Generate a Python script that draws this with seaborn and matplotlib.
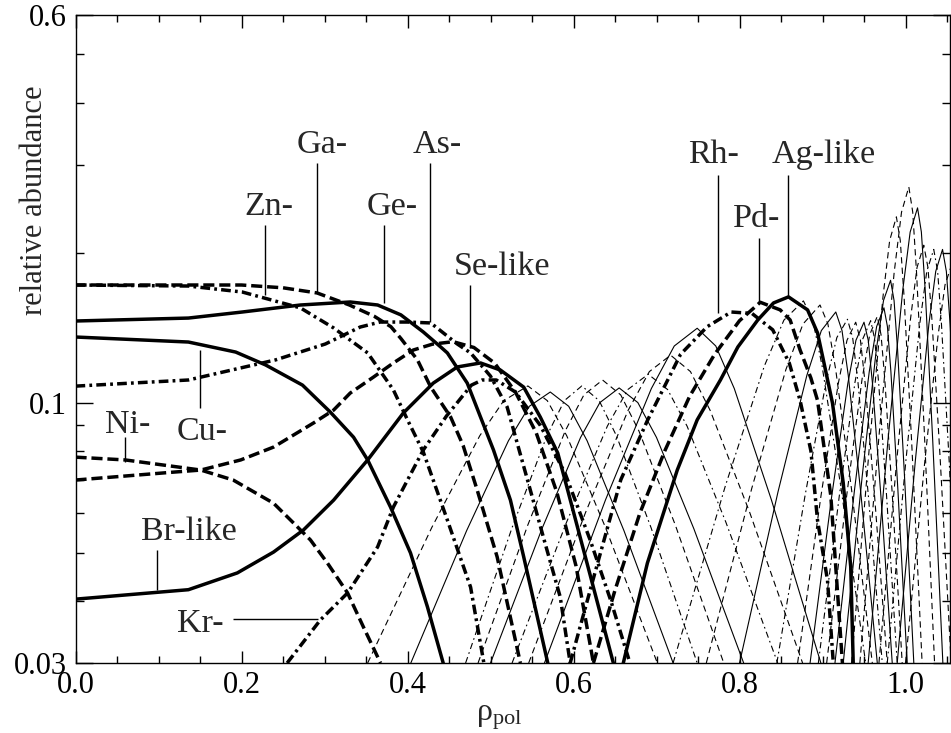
import matplotlib
matplotlib.use("Agg")
import matplotlib.pyplot as plt
from matplotlib.ticker import MultipleLocator, LogLocator, NullFormatter
import seaborn as sns

# ---------------- data (rho_pol, relative abundance) ----------------
# thick curves
NI_RHO = [0, 0.06, 0.151, 0.19, 0.2386, 0.2627, 0.283, 0.3036, 0.3277, 0.347, 0.3675]
NI_AB = [0.0777, 0.0767, 0.0732, 0.0699, 0.0628, 0.0573, 0.053, 0.0476, 0.0415, 0.0354, 0.03]
CU_RHO = [0, 0.136, 0.193, 0.229, 0.2735, 0.307, 0.335, 0.352, 0.3795, 0.4036, 0.424, 0.443]
CU_AB = [0.1354, 0.1323, 0.1263, 0.119, 0.1084, 0.0957, 0.0852, 0.0767, 0.0617, 0.0499, 0.0389, 0.03]
ZN_RHO = [0, 0.136, 0.201, 0.271, 0.311, 0.352, 0.383, 0.400, 0.419, 0.448, 0.476, 0.492]
ZN_AB = [0.1722, 0.1714, 0.1667, 0.1549, 0.1412, 0.1258, 0.106, 0.0923, 0.0796, 0.0581, 0.0426, 0.03]
GA_RHO = [0, 0.2, 0.25, 0.291, 0.33, 0.36, 0.38, 0.392, 0.412, 0.428, 0.452, 0.467, 0.484, 0.508, 0.536]
GA_AB = [0.1722, 0.1722, 0.170, 0.166, 0.157, 0.149, 0.142, 0.1345, 0.1218, 0.1074, 0.0935, 0.082, 0.0667, 0.049, 0.03]
GE_RHO = [0, 0.136, 0.201, 0.271, 0.331, 0.364, 0.392, 0.419, 0.44, 0.448, 0.472, 0.488, 0.5036, 0.524, 0.540, 0.569]
GE_AB = [0.1458, 0.1478, 0.152, 0.157, 0.1592, 0.157, 0.150, 0.1386, 0.1293, 0.1258, 0.1094, 0.0935, 0.0803, 0.0637, 0.049, 0.03]
AS_RHO = [0, 0.136, 0.241, 0.301, 0.343, 0.367, 0.40, 0.428, 0.46, 0.476, 0.50, 0.52, 0.548, 0.566, 0.584, 0.596]
AS_AB = [0.1079, 0.111, 0.1218, 0.1311, 0.1418, 0.1451, 0.1451, 0.1445, 0.1311, 0.1258, 0.113, 0.098, 0.0667, 0.052, 0.0407, 0.03]
SE_RHO = [0, 0.118, 0.151, 0.199, 0.2386, 0.2868, 0.311, 0.331, 0.359, 0.383, 0.407, 0.43, 0.455, 0.48, 0.505, 0.53, 0.555, 0.58, 0.603, 0.624]
SE_AB = [0.0699, 0.0725, 0.0732, 0.0767, 0.0814, 0.091, 0.0966, 0.1045, 0.1125, 0.1201, 0.1275, 0.131, 0.1325, 0.129, 0.12, 0.105, 0.087, 0.066, 0.047, 0.03]
BR_RHO = [0, 0.136, 0.195, 0.2386, 0.2747, 0.311, 0.352, 0.395, 0.431, 0.460, 0.488, 0.512, 0.540, 0.560, 0.581, 0.593, 0.620, 0.648]
BR_AB = [0.0403, 0.0421, 0.0455, 0.0501, 0.0555, 0.0637, 0.0767, 0.0953, 0.1094, 0.1179, 0.1201, 0.1162, 0.1074, 0.0935, 0.0792, 0.0667, 0.0451, 0.03]
KR_RHO = [0.255, 0.295, 0.328, 0.364, 0.383, 0.419, 0.447, 0.477, 0.49, 0.507, 0.53, 0.56, 0.59, 0.62, 0.645, 0.668]
KR_AB = [0.03, 0.0366, 0.0415, 0.0513, 0.0617, 0.0803, 0.094, 0.1084, 0.111, 0.111, 0.105, 0.09, 0.072, 0.053, 0.04, 0.03]
RH_RHO = [0.596, 0.625, 0.657, 0.689, 0.729, 0.761, 0.79, 0.815, 0.84, 0.86, 0.873, 0.886, 0.894, 0.906, 0.913]
RH_AB = [0.03, 0.045, 0.07, 0.092, 0.125, 0.142, 0.152, 0.151, 0.14, 0.12, 0.101, 0.08, 0.058, 0.044, 0.03]
PD_RHO = [0.624, 0.65, 0.68, 0.71, 0.74, 0.77, 0.80, 0.825, 0.849, 0.861, 0.873, 0.886, 0.894, 0.91, 0.924]
PD_AB = [0.03, 0.042, 0.06, 0.08, 0.103, 0.125, 0.146, 0.159, 0.1535, 0.1465, 0.1275, 0.112, 0.101, 0.065, 0.03]
AG_RHO = [0.66, 0.689, 0.725, 0.749, 0.777, 0.798, 0.822, 0.841, 0.859, 0.882, 0.894, 0.901, 0.912, 0.925, 0.934, 0.937]
AG_AB = [0.03, 0.0476, 0.0732, 0.0923, 0.111, 0.1293, 0.1465, 0.1585, 0.163, 0.1535, 0.138, 0.1218, 0.0998, 0.0689, 0.0468, 0.03]

# thin curves
RB_RHO = [0.352, 0.4292, 0.4871, 0.516, 0.545, 0.5684, 0.5918, 0.6386, 0.701]
RB_AB = [0.03, 0.0561, 0.0858, 0.1009, 0.108, 0.1009, 0.0858, 0.0561, 0.03]
SR_RHO = [0.404, 0.4712, 0.5216, 0.5468, 0.572, 0.5942, 0.6164, 0.6608, 0.720]
SR_AB = [0.03, 0.0553, 0.0838, 0.0983, 0.105, 0.0983, 0.0838, 0.0553, 0.03]
Y_RHO = [0.470, 0.526, 0.568, 0.589, 0.610, 0.6309, 0.6517, 0.6934, 0.749]
Y_AB = [0.03, 0.0561, 0.0858, 0.1009, 0.108, 0.1009, 0.0858, 0.0561, 0.03]
ZR_RHO = [0.485, 0.545, 0.590, 0.6125, 0.635, 0.6569, 0.6788, 0.7226, 0.781]
ZR_AB = [0.03, 0.0568, 0.0877, 0.1036, 0.111, 0.1036, 0.0877, 0.0568, 0.03]
NB_RHO = [0.500, 0.562, 0.6085, 0.6318, 0.655, 0.6775, 0.700, 0.745, 0.805]
NB_AB = [0.03, 0.0558, 0.0851, 0.1000, 0.107, 0.1000, 0.0851, 0.0558, 0.03]
MO_RHO = [0.526, 0.5916, 0.6408, 0.6654, 0.690, 0.7134, 0.7368, 0.7836, 0.846]
MO_AB = [0.03, 0.0575, 0.0897, 0.1062, 0.114, 0.1062, 0.0897, 0.0575, 0.03]
TC_RHO = [0.546, 0.6144, 0.6657, 0.6914, 0.717, 0.7409, 0.7647, 0.8124, 0.876]
TC_AB = [0.03, 0.0601, 0.0964, 0.1154, 0.1245, 0.1154, 0.0964, 0.0601, 0.03]
RU_RHO = [0.565, 0.6386, 0.6938, 0.7214, 0.749, 0.7714, 0.7937, 0.8384, 0.898]
RU_AB = [0.03, 0.0638, 0.1067, 0.1299, 0.141, 0.1299, 0.1067, 0.0638, 0.03]
CD_RHO = [0.72, 0.7828, 0.8299, 0.8535, 0.877, 0.8883, 0.8995, 0.922, 0.952]
CD_AB = [0.03, 0.0679, 0.1184, 0.1464, 0.160, 0.1464, 0.1184, 0.0679, 0.03]
IN_RHO = [0.76, 0.8148, 0.8559, 0.8765, 0.897, 0.9065, 0.9159, 0.9348, 0.960]
IN_AB = [0.03, 0.0673, 0.1165, 0.1438, 0.157, 0.1438, 0.1165, 0.0673, 0.03]
SN_RHO = [0.80, 0.8464, 0.8812, 0.8986, 0.916, 0.9235, 0.931, 0.946, 0.966]
SN_AB = [0.03, 0.0662, 0.1135, 0.1395, 0.152, 0.1395, 0.1135, 0.0662, 0.03]
SB_RHO = [0.845, 0.879, 0.9045, 0.9173, 0.930, 0.9363, 0.9426, 0.9552, 0.972]
SB_AB = [0.03, 0.0651, 0.1104, 0.1351, 0.147, 0.1351, 0.1104, 0.0651, 0.03]
TE_RHO = [0.87, 0.898, 0.919, 0.9295, 0.940, 0.9457, 0.9514, 0.9628, 0.978]
TE_AB = [0.03, 0.0647, 0.1092, 0.1334, 0.145, 0.1334, 0.1092, 0.0647, 0.03]
I_RHO = [0.885, 0.911, 0.9305, 0.9403, 0.950, 0.9551, 0.9602, 0.9704, 0.984]
I_AB = [0.03, 0.0647, 0.1092, 0.1334, 0.145, 0.1334, 0.1092, 0.0647, 0.03]
XE_RHO = [0.895, 0.9202, 0.9391, 0.9486, 0.958, 0.9628, 0.9676, 0.9772, 0.990]
XE_AB = [0.03, 0.0649, 0.1098, 0.1343, 0.146, 0.1343, 0.1098, 0.0649, 0.03]
CS_RHO = [0.905, 0.9294, 0.9477, 0.9569, 0.966, 0.9705, 0.975, 0.984, 0.996]
CS_AB = [0.03, 0.0656, 0.1116, 0.1369, 0.149, 0.1369, 0.1116, 0.0656, 0.03]
BA_RHO = [0.915, 0.9386, 0.9563, 0.9652, 0.974, 0.9782, 0.9824, 0.9908, 1.002]
BA_AB = [0.03, 0.0669, 0.1153, 0.1421, 0.155, 0.1421, 0.1153, 0.0669, 0.03]
LA_RHO = [0.925, 0.9478, 0.9649, 0.9735, 0.982, 0.9862, 0.9904, 0.9988, 1.010]
LA_AB = [0.03, 0.0711, 0.1280, 0.1603, 0.176, 0.1603, 0.1280, 0.0711, 0.03]
CE_RHO = [0.935, 0.9566, 0.9728, 0.9809, 0.989, 0.9937, 0.9983, 1.0076, 1.020]
CE_AB = [0.03, 0.0821, 0.1628, 0.2115, 0.236, 0.2115, 0.1628, 0.0821, 0.03]
PR_RHO = [0.945, 0.9686, 0.9863, 0.9952, 1.004, 1.0087, 1.0133, 1.0226, 1.035]
PR_AB = [0.03, 0.0878, 0.1823, 0.2412, 0.271, 0.2412, 0.1823, 0.0878, 0.03]
ND_RHO = [0.955, 0.9788, 0.9967, 1.0056, 1.0145, 1.0191, 1.0237, 1.0328, 1.045]
ND_AB = [0.03, 0.0838, 0.1684, 0.2200, 0.246, 0.2200, 0.1684, 0.0838, 0.03]
PM_RHO = [0.968, 0.9896, 1.0058, 1.0139, 1.022, 1.027, 1.0319, 1.0418, 1.055]
PM_AB = [0.03, 0.0770, 0.1462, 0.1868, 0.207, 0.1868, 0.1462, 0.0770, 0.03]
SM_RHO = [0.978, 1.0004, 1.0172, 1.0256, 1.034, 1.0387, 1.0433, 1.0526, 1.065]
SM_AB = [0.03, 0.0763, 0.1439, 0.1834, 0.203, 0.1834, 0.1439, 0.0763, 0.03]
EU_RHO = [0.99, 1.0118, 1.0282, 1.0364, 1.0446, 1.0492, 1.0537, 1.0628, 1.075]
EU_AB = [0.03, 0.0763, 0.1439, 0.1834, 0.203, 0.1834, 0.1439, 0.0763, 0.03]
GD_RHO = [1.0, 1.0224, 1.0392, 1.0476, 1.056, 1.0604, 1.0647, 1.0734, 1.085]
GD_AB = [0.03, 0.0738, 0.1363, 0.1723, 0.19, 0.1723, 0.1363, 0.0738, 0.03]

X_TICKS = [0.0, 0.2, 0.4, 0.6, 0.8, 1.0]
X_TICK_LABELS = ["0.0", "0.2", "0.4", "0.6", "0.8", "1.0"]
Y_TICKS = [0.03, 0.1, 0.6]
Y_TICK_LABELS = ["0.03", "0.1", "0.6"]

# ---------------- styling ----------------
sns.set_style("ticks")
plt.rcParams["font.family"] = ["Liberation Serif", "DejaVu Serif"]
plt.rcParams["mathtext.fontset"] = "custom"
plt.rcParams["mathtext.rm"] = "Liberation Serif"
plt.rcParams["mathtext.it"] = "Liberation Serif:italic"
plt.rcParams["lines.scale_dashes"] = False

LS = {
    ("solid", "thick"): "-",
    ("dashed", "thick"): (0, (8, 3.5)),
    ("dashdot", "thick"): (0, (7, 3, 2, 3)),
    ("solid", "thin"): "-",
    ("dashed", "thin"): (0, (4.5, 3)),
    ("dashdot", "thin"): (0, (4.5, 2.5, 1.2, 2.5)),
}
LW = {"thick": 2.5, "thin": 0.8}

THIN = [
    (RB_RHO, RB_AB, "dashed"), (SR_RHO, SR_AB, "solid"), (Y_RHO, Y_AB, "dashdot"),
    (ZR_RHO, ZR_AB, "dashed"), (NB_RHO, NB_AB, "solid"), (MO_RHO, MO_AB, "dashdot"),
    (TC_RHO, TC_AB, "dashed"), (RU_RHO, RU_AB, "solid"),
    (CD_RHO, CD_AB, "dashdot"), (IN_RHO, IN_AB, "dashed"), (SN_RHO, SN_AB, "solid"),
    (SB_RHO, SB_AB, "dashdot"), (TE_RHO, TE_AB, "dashed"), (I_RHO, I_AB, "solid"),
    (XE_RHO, XE_AB, "dashdot"), (CS_RHO, CS_AB, "dashed"), (BA_RHO, BA_AB, "solid"),
    (LA_RHO, LA_AB, "solid"), (CE_RHO, CE_AB, "dashed"), (PR_RHO, PR_AB, "dashed"),
    (ND_RHO, ND_AB, "solid"), (PM_RHO, PM_AB, "dashed"), (SM_RHO, SM_AB, "dashdot"),
    (EU_RHO, EU_AB, "solid"), (GD_RHO, GD_AB, "dashed"),
]
THICK = [
    (NI_RHO, NI_AB, "dashed"), (CU_RHO, CU_AB, "solid"), (ZN_RHO, ZN_AB, "dashdot"),
    (GA_RHO, GA_AB, "dashed"), (GE_RHO, GE_AB, "solid"), (AS_RHO, AS_AB, "dashdot"),
    (SE_RHO, SE_AB, "dashed"), (BR_RHO, BR_AB, "solid"), (KR_RHO, KR_AB, "dashdot"),
    (RH_RHO, RH_AB, "dashdot"), (PD_RHO, PD_AB, "dashed"), (AG_RHO, AG_AB, "solid"),
]

fig = plt.figure(figsize=(9.51, 7.33), dpi=100)
ax = fig.add_axes([75.5 / 951, 70 / 733, 874.5 / 951, 648 / 733])
ax.set_yscale("log")

for weight, group in (("thin", THIN), ("thick", THICK)):
    for xs, ys, style in group:
        sns.lineplot(x=xs, y=ys, ax=ax, color="black", lw=LW[weight],
                     linestyle=LS[(style, weight)], sort=False, estimator=None,
                     dash_capstyle="butt", solid_joinstyle="round")

ax.set_xlim(0, 1.0536)
ax.set_ylim(0.03, 0.6)

# labels with pointer lines
TK = dict(color="black", lw=1.0, solid_capstyle="butt")
FS = 24.5
notes = [
    ("Zn-", 0.2331, 0.238, [0.2283, 0.2283], [0.2273, 0.1644]),
    ("Ga-", 0.2976, 0.317, [0.2906, 0.2906], [0.3027, 0.1660]),
    ("Ge-", 0.3813, 0.238, [0.3717, 0.3717], [0.2273, 0.1585]),
    ("As-", 0.4361, 0.317, [0.4271, 0.4271], [0.3027, 0.1451]),
    ("Se-like", 0.5133, 0.1803, [0.4753, 0.4753], [0.1722, 0.1287]),
    ("Rh-", 0.7681, 0.3027, [0.7745, 0.7745], [0.2863, 0.1513]),
    ("Pd-", 0.8205, 0.2255, [0.8239, 0.8239], [0.2137, 0.1594]),
    ("Ag-like", 0.902, 0.3027, [0.8581, 0.8581], [0.2863, 0.1637]),
    ("Cu-", 0.152, 0.0841, [0.15, 0.15], [0.1275, 0.0975]),
    ("Ni-", 0.0627, 0.0869, [0.0596, 0.0596], [0.0854, 0.0761]),
    ("Br-like", 0.1367, 0.053, [0.0978, 0.0978], [0.0506, 0.042]),
    ("Kr-", 0.150, 0.0347, [0.1901, 0.2925], [0.0367, 0.0367]),
]
for txt, tx, ty, px, py in notes:
    ax.text(tx, ty, txt, ha="center", va="baseline", fontsize=FS)
    ax.plot(px, py, **TK)

# ticks
ax.set_xticks(X_TICKS)
ax.set_xticklabels(X_TICK_LABELS)
ax.xaxis.set_minor_locator(MultipleLocator(0.05))
ax.set_yticks(Y_TICKS)
ax.set_yticklabels(Y_TICK_LABELS)
ax.yaxis.set_minor_locator(LogLocator(base=10, subs=[2, 3, 4, 5, 6, 7, 8, 9]))
ax.yaxis.set_minor_formatter(NullFormatter())
ax.tick_params(axis="both", which="both", direction="in", top=True, right=True,
               width=1.0, labelsize=22, pad=6, colors="black")
ax.tick_params(axis="x", which="major", length=9)
ax.tick_params(axis="x", which="minor", length=5)
ax.tick_params(axis="y", which="major", length=12)
ax.tick_params(axis="y", which="minor", length=5.5)
for sp in ax.spines.values():
    sp.set_linewidth(1.0)
    sp.set_color("black")
    sp.set_visible(True)

ax.set_xlabel(r"$\mathrm{\rho_{pol}}$", fontsize=23, va="top")
ax.xaxis.set_label_coords(0.4846, -0.062)
ax.set_ylabel("relative abundance", fontsize=22, ha="center", va="center")
ax.yaxis.set_label_coords(-0.047, 0.714)

fig.savefig("out.png", dpi=100)
